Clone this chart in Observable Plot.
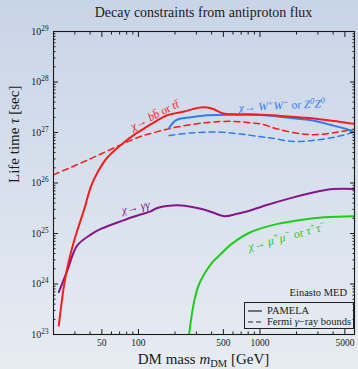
<!DOCTYPE html>
<html>
<head>
<meta charset="utf-8">
<script src="https://cdn.jsdelivr.net/npm/d3@7"></script>
<script src="https://cdn.jsdelivr.net/npm/@observablehq/plot@0.6"></script>
<style>
  html, body { margin: 0; padding: 0; }
  body {
    width: 358px; height: 369px; overflow: hidden; position: relative;
    background: linear-gradient(to bottom, #c8d4e7, #e7ecf2);
    font-family: "Liberation Serif", "Times New Roman", serif; color: #1a1a1a;
  }
  #chart { position: absolute; left: 0; top: 0; }
  #chart svg { overflow: visible; }
  #title { position: absolute; left: 53px; width: 301px; top: 3px; text-align: center; font-size: 14px; line-height: 20px; }
  #xlabel { position: absolute; left: 53px; width: 301px; top: 350px; text-align: center; font-size: 15px; line-height: 18px; }
  #xlabel sub { font-size: 70%; vertical-align: -0.3em; line-height: 0; }
  #legend { position: absolute; left: 244px; top: 302px; width: 108px; height: 25px; border: 1.3px solid #222; font-size: 10.5px; }
  #legend span { position: absolute; left: 22px; line-height: 12px; white-space: nowrap; }
</style>
</head>
<body>
<div id="chart"></div>
<div id="title">Decay constraints from antiproton flux</div>
<div id="xlabel">DM mass <i>m</i><sub>DM</sub> [GeV]</div>
<div id="legend">
  <svg width="108" height="25" style="position:absolute;left:0;top:0">
    <line x1="3" x2="17" y1="8" y2="8" stroke="#222" stroke-width="1.2"></line>
    <line x1="3" x2="17" y1="19" y2="19" stroke="#222" stroke-width="1.2" stroke-dasharray="5,3"></line>
  </svg>
  <span style="top:2px">PAMELA</span>
  <span style="top:13px">Fermi <i>γ</i>−ray bounds</span>
</div>
<script>
// Lifetime bounds [mass in GeV, lifetime in s] per decay channel
const bbPamela = [
  [22.1, 1.5e23], [24.4, 9.3e23], [26, 2.1e24], [28.6, 5.4e24], [31.4, 1.15e25],
  [35.6, 2.9e25], [40.5, 8.3e25], [45.9, 1.6e26], [55.5, 3.2e26], [73.8, 6.0e26],
  [92, 9.0e26], [105, 1.1e27], [126, 1.45e27], [173, 2.2e27], [238, 2.6e27],
  [279, 2.9e27], [337, 3.15e27], [407, 2.95e27], [492, 2.4e27], [655, 2.28e27],
  [843, 2.3e27], [1019, 2.24e27], [1585, 2.1e27], [2990, 1.86e27], [4370, 1.66e27],
  [6000, 1.48e27]
];
const wwPamela = [
  [179, 1.23e27], [203, 1.74e27], [270, 2.0e27], [371, 2.19e27], [614, 2.25e27],
  [1019, 2.22e27], [1585, 2.0e27], [2630, 1.74e27], [3850, 1.41e27], [5260, 1.15e27],
  [6000, 1.0e27]
];
const bbFermi = [
  [20, 1.45e26], [40, 3.0e26], [75, 6.0e26], [105, 8.4e26], [135, 1.0e27],
  [196, 1.25e27], [371, 1.58e27], [614, 1.66e27], [843, 1.55e27], [1019, 1.48e27],
  [1400, 1.17e27], [2180, 9.4e26], [2990, 9.1e26], [4370, 1.02e27], [6000, 1.17e27]
];
const wwFermi = [
  [179, 8.7e26], [270, 9.8e26], [448, 1.02e27], [697, 9.3e26], [1019, 8.2e26],
  [1233, 7.8e26], [1803, 6.7e26], [2630, 6.9e26], [4100, 8.1e26], [6000, 1.02e27]
];
const gammaPamela = [
  [22.1, 6.9e23], [26, 1.86e24], [31.4, 5.8e24], [40.5, 9.5e24], [49, 1.23e25],
  [74, 1.8e25], [100, 2.3e25], [126, 2.75e25], [143, 3.2e25], [223, 3.6e25],
  [326, 3.1e25], [410, 2.6e25], [508, 2.2e25], [650, 2.45e25], [792, 2.75e25],
  [1157, 3.7e25], [1918, 5.25e25], [2990, 6.8e25], [4000, 7.6e25], [6000, 7.6e25]
];
const leptonPamela = [
  [261, 1.0e23], [287, 4.4e23], [316, 1.0e24], [407, 2.7e24], [448, 3.4e24],
  [590, 6.3e24], [843, 1.07e25], [1400, 1.55e25], [2180, 1.86e25], [3390, 2.1e25],
  [6000, 2.2e25]
];

// Channel labels (markup: *italic*, ^{sup})
const curveLabels = [
  {text: "*χ→ bb̄* or *tt̄*", mass: 136, tau: 2.2e27},
  {text: "*χ→ W^{+}W^{−}* or *Z^{0}Z^{0}*", mass: 1517, tau: 3.4e27},
  {text: "*χ→ γγ*", mass: 95, tau: 3.3e25},
  {text: "*χ→ μ^{+}μ^{−}* or *τ^{+}τ^{−}*", mass: 1671, tau: 8.7e24}
];
const notes = [{text: "Einasto MED", mass: 5210, tau: 6.8e23}];

// Axis ticks
const xMajorTicks = [50, 100, 500, 1000, 5000];
const xMinorTicks = [20, 30, 40, 60, 70, 80, 90, 200, 300, 400, 600, 700, 800, 900, 2000, 3000, 4000, 6000];
const yDecades = [23, 24, 25, 26, 27, 28, 29];

const yMajorTicks = yDecades.map(e => Number(`1e${e}`));
const yMinorTicks = yDecades.slice(0, -1).flatMap(e => [2, 3, 4, 5, 6, 7, 8, 9].map(k => Number(`${k}e${e}`)));

const RED = "#f71c1c", BLUE = "#2f7cf2", PURPLE = "#86158a", GREEN = "#1fcb1f";
const labelStyle = [
  {color: RED, angle: -27, size: 11.5},
  {color: BLUE, angle: -3, size: 11.5},
  {color: PURPLE, angle: -12, size: 11.5},
  {color: GREEN, angle: -15, size: 12}
];

const lineOpts = (stroke, dashed) => ({
  x: d => d[0], y: d => d[1], stroke, strokeWidth: dashed ? 1.5 : 2,
  strokeDasharray: dashed ? "6,4" : null, curve: "catmull-rom", clip: true
});

const noText = () => "";

const chart = Plot.plot({
  width: 358, height: 369,
  marginTop: 31, marginBottom: 35, marginLeft: 53, marginRight: 4,
  x: {type: "log", domain: [20, 6000]},
  y: {type: "log", domain: [1e23, 1e29]},
  style: {background: "transparent", fontFamily: "'Liberation Serif', 'Times New Roman', serif", color: "#1a1a1a"},
  marks: [
    Plot.line(bbFermi, lineOpts(RED, true)),
    Plot.line(wwFermi, lineOpts(BLUE, true)),
    Plot.line(leptonPamela, lineOpts(GREEN, false)),
    Plot.line(gammaPamela, lineOpts(PURPLE, false)),
    Plot.line(wwPamela, lineOpts(BLUE, false)),
    Plot.line(bbPamela, lineOpts(RED, false)),

    ...curveLabels.map((d, i) => Plot.text([d], {
      x: "mass", y: "tau", text: "text", fill: labelStyle[i].color,
      rotate: labelStyle[i].angle, fontSize: labelStyle[i].size
    })),
    Plot.text(notes, {x: "mass", y: "tau", text: "text", textAnchor: "end", fontSize: 10.5}),

    // inward ticks on all four sides
    Plot.axisX(xMajorTicks, {anchor: "bottom", tickSize: -5, tickFormat: noText, label: null}),
    Plot.axisX(xMinorTicks, {anchor: "bottom", tickSize: -2.5, tickFormat: noText, label: null}),
    Plot.axisX(xMajorTicks, {anchor: "top", tickSize: -5, tickFormat: noText, label: null}),
    Plot.axisX(xMinorTicks, {anchor: "top", tickSize: -2.5, tickFormat: noText, label: null}),
    Plot.axisY(yMajorTicks, {anchor: "left", tickSize: -5, tickFormat: noText, label: null}),
    Plot.axisY(yMinorTicks, {anchor: "left", tickSize: -2.5, tickFormat: noText, label: null}),
    Plot.axisY(yMajorTicks, {anchor: "right", tickSize: -5, tickFormat: noText, label: null}),
    Plot.axisY(yMinorTicks, {anchor: "right", tickSize: -2.5, tickFormat: noText, label: null}),

    // tick labels
    Plot.text(xMajorTicks, {x: d => d, text: d => `${d}`, frameAnchor: "bottom", dy: 11, fontSize: 9.5}),
    Plot.axisY(yMajorTicks, {anchor: "left", tickSize: 0, tickPadding: 5, fontSize: 10, tickFormat: d => `10^{${Math.round(Math.log10(d))}}`, label: null}),

    Plot.text(["Life time *τ* [sec]"], {frameAnchor: "left", dx: -39, rotate: -90, fontSize: 15}),
    Plot.frame({stroke: "#1a1a1a", strokeWidth: 1.1})
  ]
});

// Turn the small markup in text into tspans
const SVGNS = "http://www.w3.org/2000/svg";
function richText(el) {
  const s = el.textContent;
  if (!/\^\{|\*/.test(s)) return;
  el.textContent = "";
  let italic = false;
  for (const part of s.split(/(\^\{[^}]*\}|\*)/)) {
    if (!part) continue;
    if (part === "*") { italic = !italic; continue; }
    const t = document.createElementNS(SVGNS, "tspan");
    if (italic) t.setAttribute("font-style", "italic");
    if (part.startsWith("^{")) {
      t.textContent = part.slice(2, -1);
      t.setAttribute("baseline-shift", "super");
      t.setAttribute("font-size", "72%");
    } else {
      t.textContent = part;
    }
    el.appendChild(t);
  }
}
chart.querySelectorAll("text").forEach(richText);

document.getElementById("chart").appendChild(chart);
</script>
</body>
</html>
